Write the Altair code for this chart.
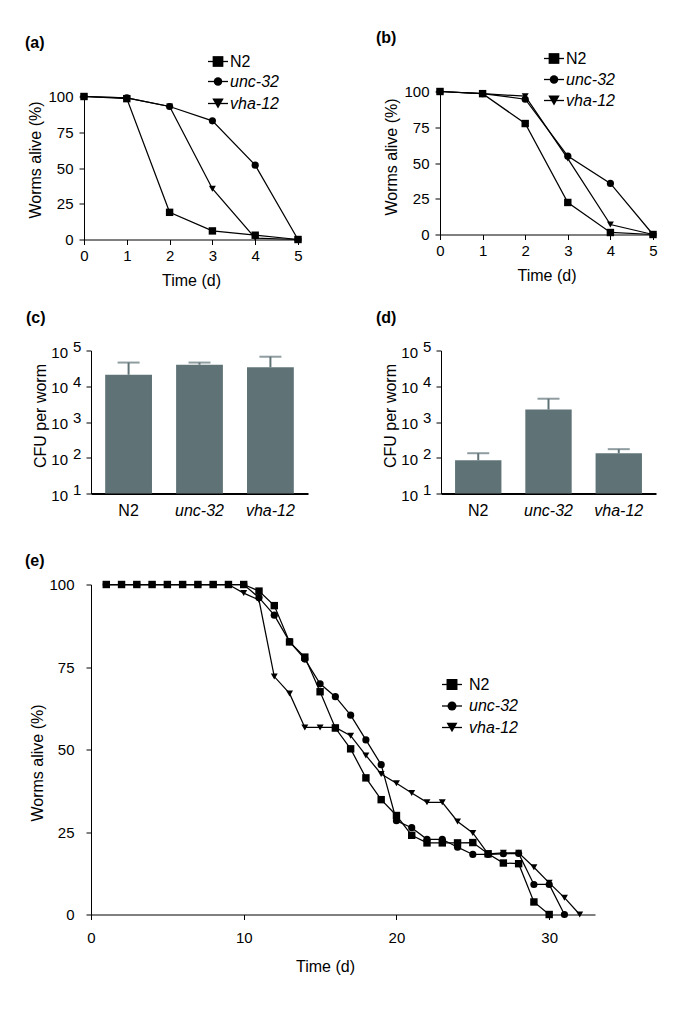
import altair as alt
import pandas as pd

FONT = "Liberation Sans"
BAR_COLOR = "#5f7377"

strains = ["N2", "unc-32", "vha-12"]
shapes = ["square", "circle", "triangle-down"]

# ---------- panel (a) ----------
days_a = [0, 1, 2, 3, 4, 5]
a_n2 = [100, 98.5, 19, 6, 3, 0]
a_unc32 = [100, 99, 93, 83, 52, 0]
a_vha12 = [100, 99, 93, 35.5, 1, 0]

# ---------- panel (b) ----------
days_b = [0, 1, 2, 3, 4, 5]
b_n2 = [100, 98.5, 77.6, 22.4, 1.4, 0]
b_unc32 = [100, 98.5, 94.6, 54.8, 35.7, 0]
b_vha12 = [100, 98.5, 96.7, 53.1, 7, 0]

# ---------- panel (c) / (d) ----------
c_cfu = [21000, 40000, 34000]
c_err = [46000, 46000, 67000]
d_cfu = [85, 2220, 134]
d_err = [134, 4480, 174]
log_ticks = [10, 100, 1000, 10000, 100000]
log_exponents = ["1", "2", "3", "4", "5"]

# ---------- panel (e) ----------
e_n2_days = [1, 2, 3, 4, 5, 6, 7, 8, 9, 10, 11, 12, 13, 14, 15, 16, 17, 18, 19, 20,
             21, 22, 23, 24, 25, 26, 27, 28, 29, 30]
e_n2 = [100, 100, 100, 100, 100, 100, 100, 100, 100, 100, 98, 93.6, 82.6, 78, 67.5,
        56.5, 50.2, 41.4, 34.8, 30, 24, 21.7, 21.7, 21.7, 21.8, 18.4, 15.6, 15.4, 3.8, 0]
e_unc32_days = [1, 2, 3, 4, 5, 6, 7, 8, 9, 10, 11, 12, 13, 14, 15, 16, 17, 18, 19, 20,
                21, 22, 23, 24, 25, 26, 27, 28, 29, 30, 31]
e_unc32 = [100, 100, 100, 100, 100, 100, 100, 100, 100, 100, 96, 90.7, 82.7, 77.4, 69.9,
           66, 60.4, 52.9, 45.4, 28.4, 26.3, 22.8, 22.8, 20.4, 18.2, 18.2, 18.4, 18.5,
           9.1, 9.1, 0]
e_vha12_days = [1, 2, 3, 4, 5, 6, 7, 8, 9, 10, 11, 12, 13, 14, 15, 16, 17, 18, 19, 20,
                21, 22, 23, 24, 25, 26, 27, 28, 29, 30, 31, 32]
e_vha12 = [100, 100, 100, 100, 100, 100, 100, 100, 100, 97.4, 95.3, 72.1, 67, 56.7, 56.7,
           56.7, 54.2, 48.2, 42.6, 39.8, 36.8, 34, 34, 28.2, 24.7, 18.4, 18.7, 18.7,
           14.3, 9.6, 5.1, 0]


def long_df(pairs):
    rows = []
    for name, days, vals in pairs:
        for d, v in zip(days, vals):
            rows.append({"strain": name, "day": d, "alive": v})
    return pd.DataFrame(rows)


ONE = alt.Data(values=[{"k": 0}])


def spacer(w, h):
    return alt.Chart(ONE).mark_point(opacity=0, size=1).encode(
        x=alt.value(0), y=alt.value(0)).properties(width=w, height=h)


def panel_label(text, dx, dy):
    return alt.Chart(ONE).mark_text(
        align="left", baseline="middle", font=FONT, fontSize=16, fontWeight="bold", color="black"
    ).encode(x=alt.value(dx), y=alt.value(dy), text=alt.value(text))


def legend_layers(lx, ys, tx, sizes, line_half=10):
    layers = []
    for i, name in enumerate(strains):
        layers.append(alt.Chart(ONE).mark_rule(color="black", strokeWidth=1.3).encode(
            x=alt.value(lx - line_half), x2=alt.value(lx + line_half), y=alt.value(ys[i])))
        layers.append(alt.Chart(ONE).mark_point(
            shape=shapes[i], filled=True, color="black", opacity=1, size=sizes[i]
        ).encode(x=alt.value(lx), y=alt.value(ys[i])))
        layers.append(alt.Chart(ONE).mark_text(
            align="left", baseline="middle", font=FONT, fontSize=16, color="black",
            fontStyle="normal" if name == "N2" else "italic"
        ).encode(x=alt.value(tx), y=alt.value(ys[i]), text=alt.value(name)))
    return layers


def line_panel(df, w, h, xdom, xticks, label, ldx, ldy, lx, lys, tx, sizes, leg_sizes,
               ylp, ytp, xlp, xtp, ytitle_y, xtitle_x=None):
    xaxis = dict(values=xticks, title="Time (d)", labelPadding=xlp, titlePadding=xtp,
                 format="d", labelFlush=False)
    if xtitle_x is not None:
        xaxis["titleX"] = xtitle_x
    x = alt.X("day:Q", scale=alt.Scale(domain=xdom, nice=False), axis=alt.Axis(**xaxis))
    y = alt.Y("alive:Q", scale=alt.Scale(domain=[0, 100], nice=False),
              axis=alt.Axis(values=[0, 25, 50, 75, 100], title="Worms alive (%)",
                            labelPadding=ylp, titlePadding=ytp, titleY=ytitle_y,
                            labelFlush=False))
    base = alt.Chart(df)
    lines = base.mark_line(color="black", strokeWidth=1.25).encode(x=x, y=y, detail="strain:N")
    pts = base.mark_point(filled=True, color="black", opacity=1).encode(
        x=x, y=y,
        shape=alt.Shape("strain:N", scale=alt.Scale(domain=strains, range=shapes), legend=None),
        size=alt.Size("strain:N", scale=alt.Scale(domain=strains, range=sizes), legend=None),
    )
    layers = [lines, pts, panel_label(label, ldx, ldy)] + legend_layers(lx, lys, tx, leg_sizes)
    return alt.layer(*layers).properties(width=w, height=h)


def bar_panel(vals, errs, w, label, ldx, ldy, spacer_y=None):
    df = pd.DataFrame({"strain": strains, "cfu": vals, "err": errs})
    ldf = pd.DataFrame({"cfu": log_ticks, "expo": log_exponents})
    x = alt.X("strain:N", sort=strains,
              scale=alt.Scale(paddingInner=0.34, paddingOuter=0.2),
              axis=alt.Axis(title=None, labelAngle=0, ticks=False, domainWidth=2,
                            labelFontSize=16, labelPadding=9,
                            labelFontStyle={"condition": {"test": "datum.value !== 'N2'",
                                                          "value": "italic"},
                                            "value": "normal"}))
    yscale = alt.Scale(type="log", domain=[10, 100000], nice=False)
    yaxis = alt.Axis(values=log_ticks, labels=False, title="CFU per worm",
                     titlePadding=37, titleY=65, tickSize=5)
    y = alt.Y("cfu:Q", scale=yscale, axis=yaxis)
    base = alt.Chart(df)
    bars = base.mark_bar(color=BAR_COLOR).encode(x=x, y=y, y2=alt.datum(10))
    err = base.mark_rule(color=BAR_COLOR, strokeWidth=2).encode(
        x=x, y=y, y2="err:Q")
    cap = base.mark_tick(color=BAR_COLOR, thickness=2, size=22).encode(
        x=x, y=alt.Y("err:Q", scale=yscale, axis=yaxis, title="CFU per worm"))
    tens = alt.Chart(ldf).mark_text(
        align="right", baseline="middle", dy=2, font=FONT, fontSize=15, color="black"
    ).encode(x=alt.value(-23), y=y, text=alt.value("10"))
    expo = alt.Chart(ldf).mark_text(
        align="left", baseline="middle", dy=-4, font=FONT, fontSize=15, color="black"
    ).encode(x=alt.value(-18), y=y, text="expo:N")
    layers = [bars, err, cap, tens, expo, panel_label(label, ldx, ldy)]
    if spacer_y is not None:
        layers.append(alt.Chart(ONE).mark_text(
            baseline="bottom", font=FONT, fontSize=10, opacity=0
        ).encode(x=alt.value(10), y=alt.value(spacer_y), text=alt.value(".")))
    return alt.layer(*layers).properties(width=w, height=143)


df_a = long_df([("N2", days_a, a_n2), ("unc-32", days_a, a_unc32), ("vha-12", days_a, a_vha12)])
df_b = long_df([("N2", days_b, b_n2), ("unc-32", days_b, b_unc32), ("vha-12", days_b, b_vha12)])
df_e = long_df([("N2", e_n2_days, e_n2), ("unc-32", e_unc32_days, e_unc32),
                ("vha-12", e_vha12_days, e_vha12)])

pa = line_panel(df_a, 214, 143, [0, 5], [0, 1, 2, 3, 4, 5], "(a)", -59, -53.5,
                134, [-35, -15, 7], 146, [55, 48, 95], [115, 72, 130], 6, 4, 4, 9, 63)
pb = line_panel(df_b, 213, 143, [0, 5], [0, 1, 2, 3, 4, 5], "(b)", -64, -53.8,
                114, [-33, -12, 9], 126, [55, 48, 95], [115, 72, 130], 6, 4, 4, 9, 65)
pc = bar_panel(c_cfu, c_err, 217, "(c)", -65, -32.5, spacer_y=181)
pd_ = bar_panel(d_cfu, d_err, 215, "(d)", -65, -32.5)
pe = line_panel(df_e, 504, 330, [0, 33], [0, 10, 20, 30], "(e)", -66, -23.6,
                361, [100, 121.5, 143], 378, [72, 60, 90], [120, 80, 120],
                12, 3, 11, 13, 178, 234)

a_col = alt.vconcat(spacer(214, 5), pa, spacing=0, bounds="flush")
row1 = alt.hconcat(a_col, pb, spacing=73)
row2 = alt.hconcat(spacer(7, 143), pc, spacer(133, 143), pd_, spacing=0, bounds="flush")
row3 = alt.hconcat(spacer(7, 330), pe, spacing=0, bounds="flush")

chart = alt.vconcat(row1, row2, row3, spacing=21).properties(
    padding={"left": 17, "top": 21.5, "right": 5, "bottom": 5},
    background="white",
).configure_view(stroke=None).configure_axis(
    domainColor="black", tickColor="black", labelColor="black", titleColor="black",
    labelFont=FONT, titleFont=FONT, labelFontSize=15, titleFontSize=16,
    titleFontWeight="normal", grid=False, tickSize=5, domainWidth=1, tickWidth=1,
)

chart.save("out.html", embed_options={"renderer": "svg", "actions": False})
